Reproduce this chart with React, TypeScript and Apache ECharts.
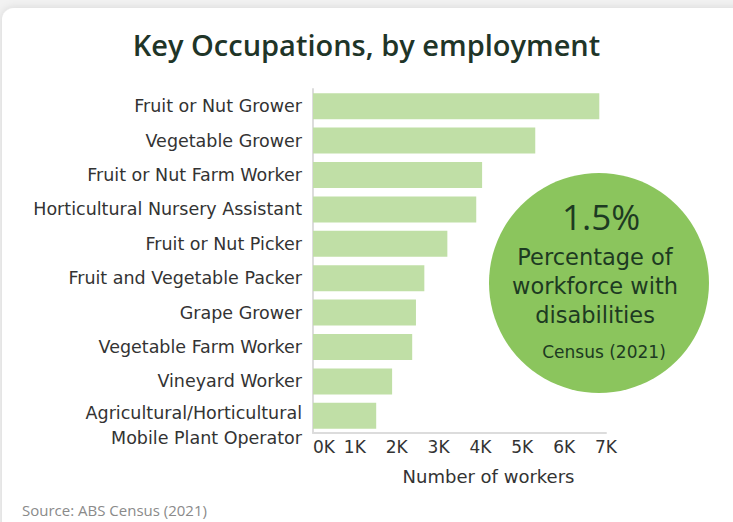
import React, { useEffect, useRef } from "react";
import * as echarts from "echarts";

const categories = [
  "Fruit or Nut Grower",
  "Vegetable Grower",
  "Fruit or Nut Farm Worker",
  "Horticultural Nursery Assistant",
  "Fruit or Nut Picker",
  "Fruit and Vegetable Packer",
  "Grape Grower",
  "Vegetable Farm Worker",
  "Vineyard Worker",
  "Agricultural/Horticultural\nMobile Plant Operator",
];
const workers = [6840, 5310, 4040, 3900, 3210, 2660, 2460, 2370, 1890, 1510];
const xTicks = [0, 1000, 2000, 3000, 4000, 5000, 6000, 7000];

const FONT = "'DejaVu Sans', sans-serif";
const TFONT = "'Open Sans', 'Noto Sans', sans-serif";

export default function App() {
  const ref = useRef<HTMLDivElement>(null);
  useEffect(() => {
    if (!ref.current) return;
    const chart = echarts.init(ref.current, undefined, { renderer: "svg" });
    chart.setOption({
      animation: false,
      backgroundColor: "#f2f2f2",
      title: {
        text: "Key Occupations, by employment",
        left: "center",
        top: 25,
        textStyle: { fontFamily: TFONT, fontSize: 29, fontWeight: 600, color: "#1f3528" },
      },
      grid: { left: 313, right: 127, top: 89, height: 344, containLabel: false },
      xAxis: {
        type: "value",
        min: 0,
        max: 7000,
        interval: 1000,
        name: "Number of workers",
        nameLocation: "middle",
        nameGap: 34,
        nameTextStyle: {
          fontFamily: FONT,
          fontSize: 18,
          color: "#333",
          padding: [0, 0, 0, 58],
        },
        axisLine: { show: true, lineStyle: { color: "#dcdcdc", width: 2 } },
        axisTick: { show: false },
        splitLine: { show: false },
        axisLabel: {
          fontFamily: FONT,
          fontSize: 17,
          color: "#333",
          margin: 5,
          formatter: (v: number) =>
            v === 0 ? "{z|0K}" : xTicks.includes(v) ? v / 1000 + "K" : "",
          rich: {
            z: { fontFamily: FONT, fontSize: 17, color: "#333", padding: [0, 0, 0, 22] },
          },
        },
      },
      yAxis: {
        type: "category",
        data: categories,
        inverse: true,
        axisLine: { show: true, lineStyle: { color: "#dcdcdc", width: 2 } },
        axisTick: { show: false },
        axisLabel: {
          interval: 0,
          fontFamily: FONT,
          fontSize: 17.5,
          color: "#333",
          margin: 11,
          lineHeight: 25,
          formatter: (v: string) => (v.includes("\n") ? "{e| }\n" + v : v),
          rich: {
            e: { fontFamily: FONT, fontSize: 17.5, lineHeight: 20 },
          },
        },
      },
      series: [
        {
          type: "bar",
          data: workers,
          barWidth: 26,
          itemStyle: { color: "#c0dfa6" },
        },
      ],
      graphic: [
        {
          type: "rect",
          z: -10,
          shape: { x: 2, y: 8, width: 760, height: 540, r: 12 },
          style: { fill: "#ffffff", shadowBlur: 8, shadowColor: "rgba(0,0,0,0.12)" },
        },
        {
          type: "circle",
          shape: { cx: 599, cy: 283, r: 110 },
          style: { fill: "#8bc55d" },
        },
        {
          type: "text",
          x: 601,
          y: 216,
          style: {
            text: "1.5%",
            align: "center",
            verticalAlign: "middle",
            fontFamily: TFONT,
            fontSize: 35,
            fontWeight: 400,
            fill: "#1d3a22",
          },
        },
        {
          type: "text",
          x: 595,
          y: 286,
          style: {
            text: "Percentage of\nworkforce with\ndisabilities",
            align: "center",
            verticalAlign: "middle",
            fontFamily: FONT,
            fontSize: 22.5,
            lineHeight: 29,
            fill: "#1d3a22",
          },
        },
        {
          type: "text",
          x: 604,
          y: 352,
          style: {
            text: "Census (2021)",
            align: "center",
            verticalAlign: "middle",
            fontFamily: FONT,
            fontSize: 17,
            fill: "#1d3a22",
          },
        },
        {
          type: "text",
          x: 22,
          y: 510,
          style: {
            text: "Source: ABS Census (2021)",
            align: "left",
            verticalAlign: "middle",
            fontFamily: TFONT,
            fontSize: 15,
            fill: "#8a8a8a",
          },
        },
      ],
    });
    return () => chart.dispose();
  }, []);
  return (
    <div
      ref={ref}
      style={{ position: "absolute", left: 0, top: 0, width: 733, height: 522 }}
    />
  );
}
